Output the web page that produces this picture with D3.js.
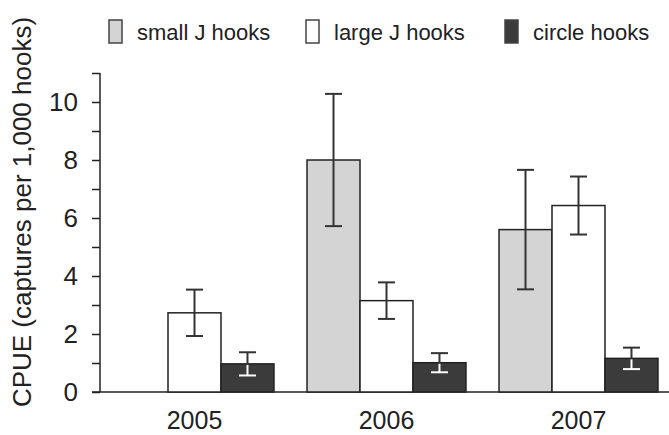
<!DOCTYPE html>
<html>
<head>
<meta charset="utf-8">
<script src="https://cdn.jsdelivr.net/npm/d3@7"></script>
<style>
  html, body { margin: 0; padding: 0; background: #fff; }
  text { font-family: "Liberation Sans", Arial, Helvetica, sans-serif; fill: #222; }
</style>
</head>
<body>
<svg id="chart" width="669" height="435"></svg>
<script>
const years = ["2005", "2006", "2007"];
const seriesNames = ["small J hooks", "large J hooks", "circle hooks"];
const seriesColors = ["#d4d4d4", "#ffffff", "#3b3b3b"];
// CPUE means per year (null = not fished)
const smallJ = [null, 8.0, 5.6];
const largeJ = [2.73, 3.15, 6.43];
const circle = [0.97, 1.01, 1.16];
// error (+/-)
const smallJErr = [null, 2.28, 2.06];
const largeJErr = [0.8, 0.63, 1.0];
const circleErr = [0.4, 0.33, 0.37];
const yTicks = [0, 2, 4, 6, 8, 10];
const yLabel = "CPUE (captures per 1,000 hooks)";

const values = [smallJ, largeJ, circle];
const errors = [smallJErr, largeJErr, circleErr];

const svg = d3.select("#chart");
const ink = "#222";

const y = d3.scaleLinear().domain([0, 11]).range([392, 73]);
const x0 = d3.scaleBand().domain(years).range([98.5, 674.5])
  .paddingInner(0.172).paddingOuter(0.086);
const x1 = d3.scaleBand().domain(seriesNames).range([0, x0.bandwidth()]);

// y axis
const yAxis = d3.axisLeft(y).tickValues(d3.range(0, 12, 1)).tickSize(8)
  .tickFormat(d => yTicks.includes(d) ? d : "");
const gy = svg.append("g").attr("transform", "translate(100,0)").call(yAxis);
gy.select(".domain").attr("stroke", ink).attr("stroke-width", 1.5).attr("d", "M0,73V392");
gy.selectAll(".tick line").attr("stroke", ink).attr("stroke-width", 1.5);
gy.selectAll(".tick text").attr("x", -22).style("font-size", "26px")
  .style("font-family", "Liberation Sans, Arial, sans-serif").attr("fill", ink);

// baseline
svg.append("line").attr("x1", 92).attr("x2", 669).attr("y1", y(0)).attr("y2", y(0))
  .attr("stroke", ink).attr("stroke-width", 1.5);

// bars
const flat = [];
years.forEach((yr, i) => {
  seriesNames.forEach((s, j) => {
    if (values[j][i] != null) flat.push({ yr, s, j, v: values[j][i], e: errors[j][i] });
  });
});

svg.append("g").selectAll("rect").data(flat).join("rect")
  .attr("x", d => x0(d.yr) + x1(d.s))
  .attr("y", d => y(d.v))
  .attr("width", x1.bandwidth())
  .attr("height", d => y(0) - y(d.v))
  .attr("fill", d => seriesColors[d.j])
  .attr("stroke", ink).attr("stroke-width", 1.5);

// error bars
const capW = 17;
const eg = svg.append("g");
flat.forEach(d => {
  const cx = x0(d.yr) + x1(d.s) + x1.bandwidth() / 2;
  const hi = y(d.v + d.e), lo = y(d.v - d.e), top = y(d.v);
  const dark = d.j === 2;
  const lowColor = dark ? "#fff" : "#333";
  eg.append("line").attr("x1", cx).attr("x2", cx).attr("y1", hi).attr("y2", top)
    .attr("stroke", "#333").attr("stroke-width", 2);
  eg.append("line").attr("x1", cx - capW / 2).attr("x2", cx + capW / 2).attr("y1", hi).attr("y2", hi)
    .attr("stroke", "#333").attr("stroke-width", 2);
  eg.append("line").attr("x1", cx).attr("x2", cx).attr("y1", top + (dark ? 1 : 0)).attr("y2", lo)
    .attr("stroke", lowColor).attr("stroke-width", 2);
  eg.append("line").attr("x1", cx - capW / 2).attr("x2", cx + capW / 2).attr("y1", lo).attr("y2", lo)
    .attr("stroke", lowColor).attr("stroke-width", 2);
});

// x labels
svg.append("g").selectAll("text").data(years).join("text")
  .attr("x", d => x0(d) + x0.bandwidth() / 2)
  .attr("y", 429)
  .attr("text-anchor", "middle")
  .style("font-size", "25px")
  .text(d => d);

// y label
svg.append("text")
  .attr("transform", "translate(31,212) rotate(-90)")
  .attr("text-anchor", "middle")
  .style("font-size", "26px")
  .text(yLabel);

// legend
const legX = [109, 306, 505];
const lg = svg.append("g");
seriesNames.forEach((s, j) => {
  lg.append("rect").attr("x", legX[j]).attr("y", 20).attr("width", 13).attr("height", 23)
    .attr("fill", seriesColors[j]).attr("stroke", "#444").attr("stroke-width", 1.5);
  lg.append("text").attr("x", legX[j] + 28).attr("y", 40)
    .style("font-size", "22px").text(s);
});
</script>
</body>
</html>
